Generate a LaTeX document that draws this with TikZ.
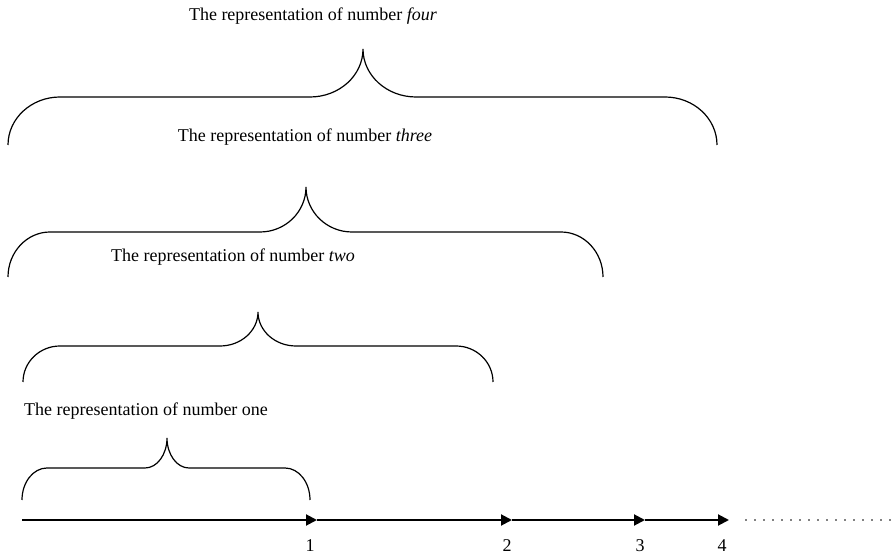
\documentclass[tikz,border=0pt]{standalone}
\usepackage{fontspec}
\setmainfont{Liberation Serif}
\usetikzlibrary{arrows.meta, positioning}

% brace opening downwards: left x, right x, end y, bar y, tip x, tip y, corner width, tip width
\newcommand{\numbrace}[8]{%
  \draw[brc] (#1,#3) .. controls (#1,{#3+0.552*(#4-#3)}) and ({#1+0.448*#7},#4) .. ({#1+#7},#4)
    -- ({#5-#8},#4) .. controls ({#5-0.448*#8},#4) and (#5,{#6-0.552*(#6-#4)}) .. (#5,#6)
    .. controls (#5,{#6-0.552*(#6-#4)}) and ({#5+0.448*#8},#4) .. ({#5+#8},#4)
    -- ({#2-#7},#4) .. controls ({#2-0.448*#7},#4) and (#2,{#3+0.552*(#4-#3)}) .. (#2,#3);}

\begin{document}
\begin{tikzpicture}[
    x=1pt, y=1pt,
    >={Triangle[length=11pt, width=11pt]},
    font=\fontsize{18}{20}\selectfont,
    brc/.style={line width=1.2pt},
    axis/.style={->, line width=2pt},
    lab/.style={inner sep=0pt},
    num/.style={inner sep=0pt},
]
\useasboundingbox (0,0) rectangle (891,556);

% number line
\coordinate (p0) at (22,36);
\coordinate (p1) at (317,36);
\coordinate (p2) at (512,36);
\coordinate (p3) at (645,36);
\coordinate (p4) at (729,36);
\coordinate (d0) at (746,36);
\coordinate (d1) at (891,36);

\draw[axis] (p0) -- (p1);
\draw[axis] (p1) -- (p2);
\draw[axis] (p2) -- (p3);
\draw[axis] (p3) -- (p4);
\draw[line width=1.8pt, line cap=round, dash pattern=on 0pt off 9pt] (d0) -- (d1);

\node[num, below=19pt of p1, xshift=-7pt] (n1) {1};
\node[num, below=19pt of p2, xshift=-5pt] (n2) {2};
\node[num, below=19pt of p3, xshift=-5pt] (n3) {3};
\node[num, below=19pt of p4, xshift=-7pt] (n4) {4};

% braces
\numbrace{22}{310}{56}{88}{167}{118}{25}{22}
\numbrace{23}{493}{174}{210}{258}{244}{37}{38}
\numbrace{8}{603}{279}{324}{306}{369}{42}{46}
\numbrace{8}{717}{411}{459}{363}{507}{52}{53}

% labels
\node[lab] (one)   at (146,145) {The representation of number one};
\node[lab] (two)   at (233,299) {The representation of number \textit{two}};
\node[lab] (three) at (305,419) {The representation of number \textit{three}};
\node[lab] (four)  at (313,540) {The representation of number \textit{four}};

\end{tikzpicture}
\end{document}
